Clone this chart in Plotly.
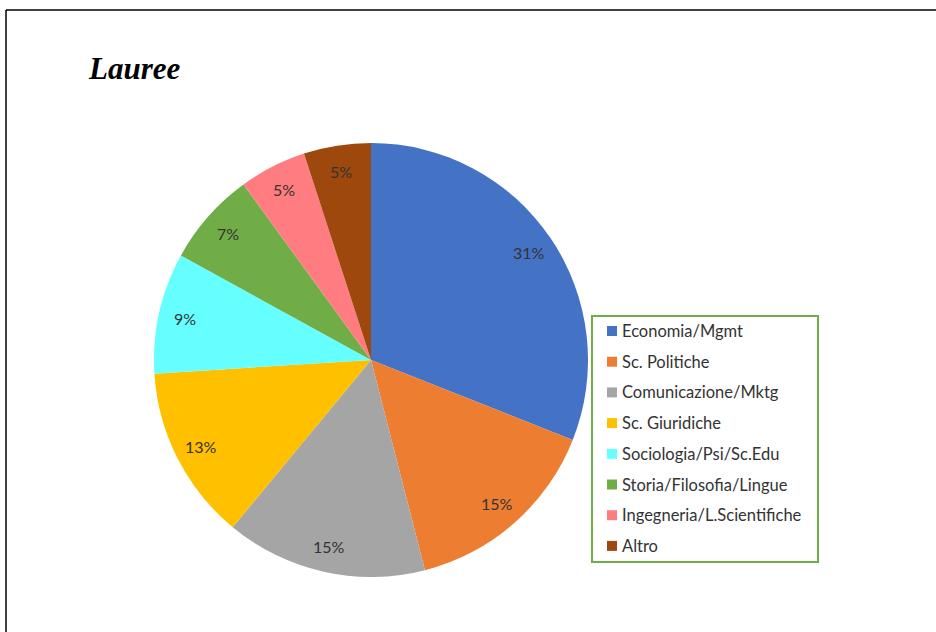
import math
import plotly.graph_objects as go

# Degree fields and their share (%)
categories = [
    "Economia/Mgmt",
    "Sc. Politiche",
    "Comunicazione/Mktg",
    "Sc. Giuridiche",
    "Sociologia/Psi/Sc.Edu",
    "Storia/Filosofia/Lingue",
    "Ingegneria/L.Scientifiche",
    "Altro",
]
shares = [31, 15, 15, 13, 9, 7, 5, 5]
colors = ["#4472C4", "#ED7D31", "#A5A5A5", "#FFC000",
          "#66FFFF", "#70AD47", "#FF7C80", "#9E480E"]
title_text = "Lauree"

W, H = 936, 632
cx, cy, R = 371, 360, 217          # pie centre / radius in pixels
TEXT_COL = "#333333"
FONT = "Lato, Open Sans, sans-serif"


def px(x):
    return x / W


def py(y):
    return 1 - y / H


fig = go.Figure()

fig.add_trace(go.Pie(
    labels=categories,
    values=shares,
    sort=False,
    direction="clockwise",
    rotation=0,
    marker=dict(colors=colors, line=dict(width=0)),
    textinfo="none",
    hoverinfo="label+percent",
    showlegend=False,
    domain=dict(x=[px(cx - R), px(cx + R)], y=[py(cy + R), py(cy - R)]),
))

annotations = []
shapes = []

# Percentage labels, placed at each slice's mid-angle
total = sum(shares)
cum = 0
for v in shares:
    mid = (cum + v / 2) / total * 2 * math.pi
    cum += v
    r = 0.88 * R
    x = cx + r * math.sin(mid)
    y = cy - r * math.cos(mid)
    annotations.append(dict(
        x=px(x), y=py(y), xref="paper", yref="paper",
        text=f"{round(100 * v / total)}%", showarrow=False,
        font=dict(family=FONT, size=16, color=TEXT_COL),
        xanchor="center", yanchor="middle",
    ))

# Title
annotations.append(dict(
    x=px(86), y=py(68), xref="paper", yref="paper",
    text=f"<b><i>{title_text}</i></b>", showarrow=False,
    font=dict(family="Liberation Serif, Times New Roman, serif", size=31, color="black"),
    xanchor="left", yanchor="middle",
))

# Legend box
lx0, ly0, lx1, ly1 = 592, 316, 818, 562
shapes.append(dict(
    type="rect", xref="paper", yref="paper",
    x0=px(lx0), x1=px(lx1), y0=py(ly0), y1=py(ly1),
    line=dict(color="#70AD47", width=2), fillcolor="white",
))
row0, step, sq = 331, 30.7, 10
for i, (name, col) in enumerate(zip(categories, colors)):
    yc = row0 + i * step
    shapes.append(dict(
        type="rect", xref="paper", yref="paper",
        x0=px(607), x1=px(607 + sq), y0=py(yc + sq / 2), y1=py(yc - sq / 2),
        line=dict(width=0), fillcolor=col,
    ))
    annotations.append(dict(
        x=px(620), y=py(yc), xref="paper", yref="paper",
        text=name, showarrow=False,
        font=dict(family=FONT, size=16.5, color=TEXT_COL),
        xanchor="left", yanchor="middle",
    ))

# Frame lines (top and left)
shapes.append(dict(type="line", xref="paper", yref="paper",
                   x0=px(6), x1=1, y0=py(10), y1=py(10),
                   line=dict(color="black", width=1.5)))
shapes.append(dict(type="line", xref="paper", yref="paper",
                   x0=px(6), x1=px(6), y0=py(10), y1=0,
                   line=dict(color="black", width=1.5)))

fig.update_layout(
    width=W, height=H,
    margin=dict(l=0, r=0, t=0, b=0),
    paper_bgcolor="white",
    plot_bgcolor="white",
    annotations=annotations,
    shapes=shapes,
)

fig.write_html("out.html")
